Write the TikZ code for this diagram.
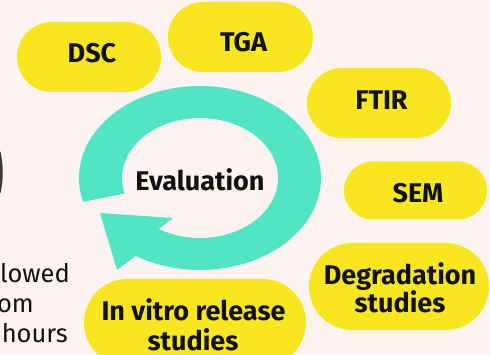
\documentclass[tikz,border=0pt]{standalone}
\usepackage{fontspec}
\setmainfont{Fira Sans}
\usetikzlibrary{shapes.misc}
\definecolor{bgc}{HTML}{FDF3F1}
\definecolor{pillc}{HTML}{F8E71F}
\definecolor{ringc}{HTML}{52E5C4}
\definecolor{inkc}{HTML}{111111}
\definecolor{edgec}{HTML}{3A3A3A}
\tikzset{
  pill/.style={rounded rectangle, fill=pillc, draw=none, inner sep=0pt},
  lbl/.style={font=\fontsize{27}{28}\selectfont\bfseries, text=inkc, inner sep=0pt, anchor=base},
  side/.style={font=\fontsize{25.5}{29}\selectfont, text=inkc, inner sep=0pt, anchor=base east}
}
\begin{document}
\begin{tikzpicture}[x=1pt,y=-1pt]
\fill[bgc] (0,0) rectangle (490,355);
\useasboundingbox (0,0) rectangle (490,355);
\begin{scope}
\clip (0,0) rectangle (490,355);
% partial edge of a circle at the left border
\draw[edgec, line width=3pt] (-1,152) .. controls (2,165) and (2,180) .. (-1,193);
% side text (clipped paragraph)
\node[side] (t1) at (70,283) {llowed};
\node[side] (t2) at (34,313) {om};
\node[side] (t3) at (68,342) {hours};
% ring arrow
\coordinate (rc) at (200,178);
\fill[ringc] (83.1,201.8) arc[start angle=165, end angle=482, x radius=121, y radius=92]
  -- (117,270) -- (100,213) -- (173,218) -- (158.7,228.9)
  arc[start angle=482, end angle=165, x radius=78, y radius=60] -- cycle;
\node[lbl] (eval) at (200,191) {Evaluation};
% pills
\node[pill, minimum width=144pt, minimum height=70pt] (dsc) at (89,57) {};
\node[pill, minimum width=145pt, minimum height=70pt] (tga) at (240.5,37) {};
\node[pill, minimum width=144pt, minimum height=70pt] (ftir) at (379,103) {};
\node[pill, minimum width=143pt, minimum height=58pt] (sem) at (415.5,190.5) {};
\node[pill, minimum width=180pt, minimum height=87pt] (deg) at (399,286.5) {};
\node[pill, minimum width=222pt, minimum height=87pt] (vit) at (195,322.5) {};
% pill labels
\node[lbl] (dsct) at (92,63) {DSC};
\node[lbl] (tgat) at (243.5,52) {TGA};
\node[lbl] (ftirt) at (381.5,110) {FTIR};
\node[lbl] (semt) at (418,203) {SEM};
\node[lbl] (degt1) at (400,285) {Degradation};
\node[lbl] (degt2) at (400,313) {studies};
\node[lbl] (vitt1) at (193.5,321) {In vitro release};
\node[lbl] (vitt2) at (193,350) {studies};
\end{scope}
\end{tikzpicture}
\end{document}
